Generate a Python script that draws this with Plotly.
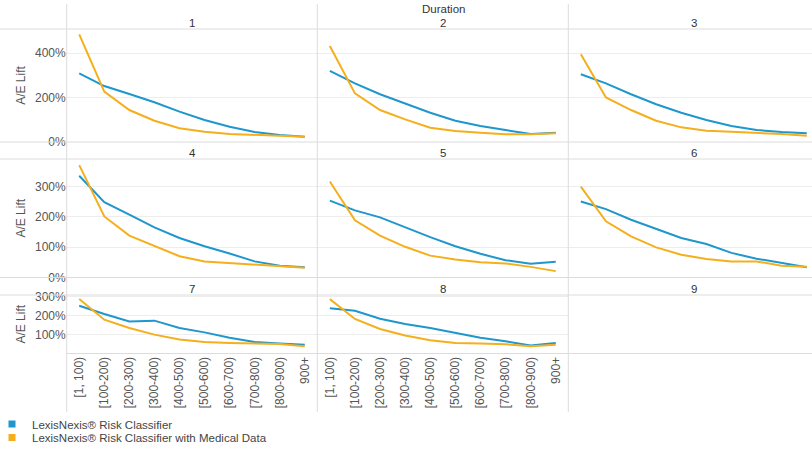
import plotly.graph_objects as go

W, H = 812, 449

categories = ["[1, 100)", "[100-200)", "[200-300)", "[300-400)", "[400-500)",
              "[500-600)", "[600-700)", "[700-800)", "[800-900)", "900+"]
durations = ["1", "2", "3", "4", "5", "6", "7", "8", "9"]
series_names = ["LexisNexis® Risk Classifier",
                "LexisNexis® Risk Classifier with Medical Data"]

# A/E Lift (%) per duration panel
rc_values = {
    "1": [309, 252, 216, 179, 137, 99, 69, 45, 32, 24],
    "2": [320, 264, 215, 174, 132, 96, 72, 54, 36, 42],
    "3": [305, 264, 215, 170, 132, 99, 72, 54, 45, 39],
    "4": [335, 248, 207, 165, 130, 103, 79, 53, 39, 34],
    "5": [253, 221, 198, 165, 133, 103, 78, 57, 45, 52],
    "6": [250, 225, 190, 161, 130, 110, 81, 62, 48, 34],
    "7": [253, 209, 170, 174, 135, 112, 83, 61, 53, 46],
    "8": [240, 226, 184, 156, 135, 109, 83, 65, 42, 56],
    "9": [],
}
med_values = {
    "1": [485, 227, 144, 96, 62, 46, 36, 33, 27, 24],
    "2": [432, 219, 144, 102, 64, 50, 42, 35, 35, 39],
    "3": [395, 201, 144, 96, 66, 51, 46, 42, 36, 28],
    "4": [370, 201, 138, 103, 70, 53, 48, 43, 37, 32],
    "5": [316, 188, 138, 101, 72, 59, 50, 46, 35, 21],
    "6": [299, 185, 135, 99, 75, 61, 53, 53, 39, 35],
    "7": [289, 179, 135, 100, 74, 61, 56, 53, 51, 39],
    "8": [288, 183, 130, 95, 70, 56, 53, 49, 38, 47],
    "9": [],
}
row_ticks = [[0, 200, 400], [0, 100, 200, 300], [100, 200, 300]]
row_ticktext = [["0%", "200%", "400%"], ["0%", "100%", "200%", "300%"],
                ["100%", "200%", "300%"]]
row_ranges = [[0, 509], [0, 390], [0, 310]]

BLUE = "#1F97CC"
ORANGE = "#F5AF1C"
FONT = "Liberation Sans, Arial, sans-serif"
GRID = "#ededed"
BORDER = "#dcdcdc"

# pixel layout
col_px = [(66.7, 317.3), (317.3, 568.3), (568.3, 819.3)]
row_px = [(29, 142), (159, 277.5), (295, 353.5)]
header_px = [22.5, 153, 289]

def px_x(v):
    return v / W

def px_y(v):
    return 1 - v / H

fig = go.Figure()
layout = dict(
    width=W, height=H,
    margin=dict(l=0, r=0, t=0, b=0, pad=0, autoexpand=False),
    paper_bgcolor="white", plot_bgcolor="white",
    font=dict(family=FONT, size=12, color="#555555"),
    showlegend=True,
)

for k, d in enumerate(durations):
    r, c = divmod(k, 3)
    idx = k + 1
    xa = "x" if idx == 1 else f"x{idx}"
    ya = "y" if idx == 1 else f"y{idx}"
    x0, x1 = col_px[c]
    vis_x1 = min(x1, W)
    band = (x1 - x0) / len(categories)
    xmax = 9.5 - (x1 - vis_x1) / band
    y0, y1 = row_px[r]
    layout["xaxis" if idx == 1 else f"xaxis{idx}"] = dict(
        domain=[px_x(x0), px_x(vis_x1)], anchor=ya, type="category",
        categoryorder="array", categoryarray=categories,
        range=[-0.5, xmax], showgrid=False, zeroline=False, showline=False,
        showticklabels=(r == 2), tickangle=-90, ticks="",
        tickfont=dict(size=12, color="#555555"), fixedrange=True,
    )
    layout["yaxis" if idx == 1 else f"yaxis{idx}"] = dict(
        domain=[px_y(y1), px_y(y0)], anchor=xa, range=row_ranges[r],
        tickmode="array", tickvals=row_ticks[r], ticktext=row_ticktext[r],
        showgrid=True, gridcolor=GRID,
        gridwidth=1, zeroline=False, showline=False, ticks="",
        showticklabels=(c == 0), tickfont=dict(size=12, color="#555555"),
        title=dict(text="A/E Lift" if c == 0 else "", standoff=6,
                   font=dict(size=12, color="#555555")),
        fixedrange=True,
    )
    if rc_values[d]:
        fig.add_trace(go.Scatter(x=categories, y=rc_values[d], mode="lines",
                                 line=dict(color=BLUE, width=2),
                                 xaxis=xa, yaxis=ya, showlegend=False,
                                 hoverinfo="skip"))
    if med_values[d]:
        fig.add_trace(go.Scatter(x=categories, y=med_values[d], mode="lines",
                                 line=dict(color=ORANGE, width=2),
                                 xaxis=xa, yaxis=ya, showlegend=False,
                                 hoverinfo="skip"))

# legend entries (square swatches)
for name, color, leg in [(series_names[0], BLUE, "legend"),
                         (series_names[1], ORANGE, "legend2")]:
    fig.add_trace(go.Scatter(x=[None], y=[None], mode="markers", name=name,
                             marker=dict(symbol="square", size=7, color=color),
                             legend=leg, showlegend=True))

for key, ytop in [("legend", 409.5), ("legend2", 423)]:
    layout[key] = dict(x=px_x(-8), y=px_y(ytop), xanchor="left", yanchor="top",
                       bgcolor="rgba(0,0,0,0)",
                       font=dict(size=11.5, color="#444444"),
                       itemwidth=30, tracegroupgap=0)

shapes = []
# vertical column dividers
for x in [66.7, 317.3, 568.3]:
    shapes.append(dict(type="line", xref="paper", yref="paper",
                       x0=px_x(x), x1=px_x(x), y0=px_y(4), y1=px_y(412),
                       line=dict(color=BORDER, width=1)))
# horizontal pane borders
for (t, b) in row_px:
    shapes.append(dict(type="line", xref="paper", yref="paper",
                       x0=0, x1=1, y0=px_y(t), y1=px_y(t),
                       line=dict(color=BORDER, width=1)))
    shapes.append(dict(type="line", xref="paper", yref="paper",
                       x0=0 if b < 300 else px_x(66.7), x1=1, y0=px_y(b), y1=px_y(b),
                       line=dict(color=BORDER, width=1)))
layout["shapes"] = shapes

annotations = [dict(text="Duration", xref="paper", yref="paper",
                    x=px_x(443), y=px_y(9.5), showarrow=False,
                    xanchor="center", yanchor="middle", borderpad=0,
                    font=dict(size=11.5, color="#333333"))]
for k, d in enumerate(durations):
    r, c = divmod(k, 3)
    x0, x1 = col_px[c]
    annotations.append(dict(text=d, xref="paper", yref="paper",
                            x=px_x((x0 + x1) / 2 if c < 2 else 694),
                            y=px_y(header_px[r]), showarrow=False,
                            xanchor="center", yanchor="middle", borderpad=0,
                            font=dict(size=11.5, color="#333333")))
layout["annotations"] = annotations

fig.update_layout(**layout)
fig.write_html("out.html", config={"displayModeBar": False},
               post_script="document.body.style.margin='0';document.body.style.padding='0';")
